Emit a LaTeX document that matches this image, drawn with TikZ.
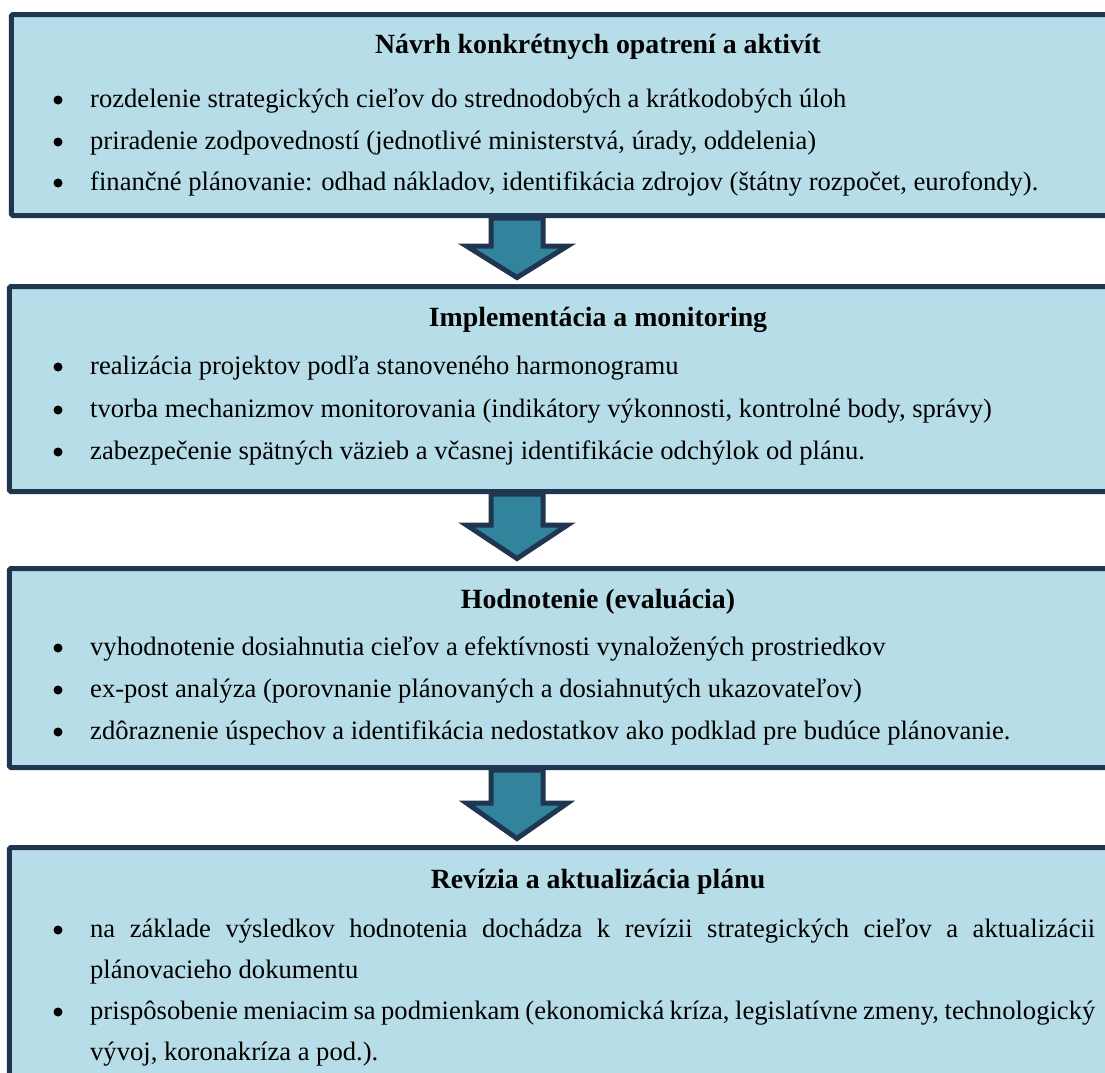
\documentclass[tikz,border=0pt]{standalone}
\usepackage{fontspec}
\setmainfont{Liberation Serif}
\usetikzlibrary{calc}
\definecolor{boxfill}{HTML}{B7DDE8}
\definecolor{boxline}{HTML}{1F3550}
\definecolor{arrowfill}{HTML}{31849B}
\tikzset{
  stagebox/.style={draw=boxline, line width=5bp, fill=boxfill, rounded corners=1.5bp, inner sep=0pt},
  bodytext/.style={anchor=base west, inner sep=0pt, font=\fontsize{26.6bp}{32bp}\selectfont},
  titletext/.style={anchor=base, inner sep=0pt, font=\fontsize{27.8bp}{34bp}\selectfont\bfseries},
  bul/.style={circle, fill=black, inner sep=0pt, minimum size=9bp},
  flowarrow/.style={draw=boxline, fill=arrowfill, line width=5bp, line join=miter}
}
\begin{document}
\begin{tikzpicture}[x=1bp, y=-1bp]
\useasboundingbox (0,0) rectangle (1105,1073);
\clip (0,0) rectangle (1105,1073);
\fill[white] (0,0) rectangle (1105,1073);

% boxes
\node[stagebox, minimum width=1178.5bp, minimum height=201bp] (box1) at (600.75,115) {};
\node[stagebox, minimum width=1180.5bp, minimum height=205bp] (box2) at (599.75,389) {};
\node[stagebox, minimum width=1180.5bp, minimum height=199bp] (box3) at (599.75,668) {};
\node[stagebox, minimum width=1180.5bp, minimum height=252.5bp] (box4) at (599.75,973.75) {};

% arrows
\coordinate (ax) at (517,0);
\coordinate (t1) at (box1.south -| ax);
\coordinate (h1) at (box2.north -| ax);
\coordinate (t2) at (box2.south -| ax);
\coordinate (h2) at (box3.north -| ax);
\coordinate (t3) at (box3.south -| ax);
\coordinate (h3) at (box4.north -| ax);
\draw[flowarrow] ($(t1)+(-26,0)$) -- ($(h1)+(-26,-38)$) -- ($(h1)+(-50.5,-38)$) -- ($(h1)+(0,-6.5)$) -- ($(h1)+(50.5,-38)$) -- ($(h1)+(26,-38)$) -- ($(t1)+(26,0)$) -- cycle;
\draw[flowarrow] ($(t2)+(-26,0)$) -- ($(h2)+(-26,-41)$) -- ($(h2)+(-50.5,-41)$) -- ($(h2)+(0,-7.5)$) -- ($(h2)+(50.5,-41)$) -- ($(h2)+(26,-41)$) -- ($(t2)+(26,0)$) -- cycle;
\draw[flowarrow] ($(t3)+(-26,0)$) -- ($(h3)+(-26,-42)$) -- ($(h3)+(-50.5,-42)$) -- ($(h3)+(0,-6.5)$) -- ($(h3)+(50.5,-42)$) -- ($(h3)+(26,-42)$) -- ($(t3)+(26,0)$) -- cycle;

% box 1
\node[titletext] (ti1) at (598,53) {Návrh konkrétnych opatrení a aktivít};
\node[bul] (b11) at (58,100) {};
\node[bul] (b12) at (58,142) {};
\node[bul] (b13) at (58,183) {};
\node[bodytext] (l11) at (90,107) {rozdelenie strategických cieľov do strednodobých a krátkodobých úloh};
\node[bodytext] (l12) at (90,149) {priradenie zodpovedností (jednotlivé ministerstvá, úrady, oddelenia)};
\node[bodytext] (l13) at (90,190) {finančné plánovanie: odhad nákladov, identifikácia zdrojov (štátny rozpočet, eurofondy).};

% box 2
\node[titletext] (ti2) at (598,326) {Implementácia a monitoring};
\node[bul] (b21) at (58,367) {};
\node[bul] (b22) at (58,410) {};
\node[bul] (b23) at (58,452) {};
\node[bodytext] (l21) at (90,374) {realizácia projektov podľa stanoveného harmonogramu};
\node[bodytext] (l22) at (90,417) {tvorba mechanizmov monitorovania (indikátory výkonnosti, kontrolné body, správy)};
\node[bodytext] (l23) at (90,459) {zabezpečenie spätných väzieb a včasnej identifikácie odchýlok od plánu.};

% box 3
\node[titletext] (ti3) at (598,608) {Hodnotenie (evaluácia)};
\node[bul] (b31) at (58,648) {};
\node[bul] (b32) at (58,690) {};
\node[bul] (b33) at (58,732) {};
\node[bodytext] (l31) at (90,655) {vyhodnotenie dosiahnutia cieľov a efektívnosti vynaložených prostriedkov};
\node[bodytext] (l32) at (90,697) {ex-post analýza (porovnanie plánovaných a dosiahnutých ukazovateľov)};
\node[bodytext] (l33) at (90,739) {zdôraznenie úspechov a identifikácia nedostatkov ako podklad pre budúce plánovanie.};

% box 4
\node[titletext] (ti4) at (598,888) {Revízia a aktualizácia plánu};
\node[bul] (b41) at (58,930) {};
\node[bul] (b42) at (58,1012) {};
\node[bodytext] (l41) at (90,937) {\makebox[1005bp][s]{na základe výsledkov hodnotenia dochádza k revízii strategických cieľov a aktualizácii}};
\node[bodytext] (l42) at (90,978) {plánovacieho dokumentu};
\node[bodytext] (l43) at (90,1019) {\makebox[1005bp][s]{prispôsobenie meniacim sa podmienkam (ekonomická kríza, legislatívne zmeny, technologický}};
\node[bodytext] (l44) at (90,1060) {vývoj, koronakríza a pod.).};
\end{tikzpicture}
\end{document}
